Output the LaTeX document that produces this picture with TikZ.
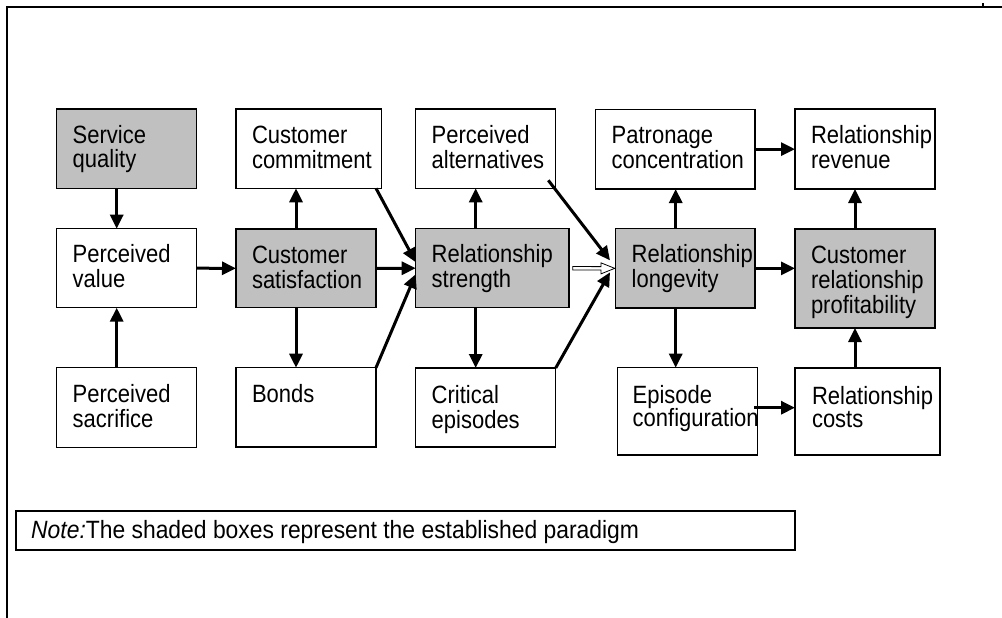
\documentclass[tikz,border=0pt]{standalone}
\usepackage{fontspec}
\setmainfont{Liberation Sans}[FakeStretch=0.88]
\newfontfamily\notefont{Liberation Sans}[FakeStretch=0.915]
\usetikzlibrary{arrows.meta,fit,calc}
\definecolor{paradigm}{RGB}{192,192,192}

\newcommand{\boxlines}[1]{\parbox[t]{160pt}{#1}}

\begin{document}
\begin{tikzpicture}[x=1pt,y=-1pt,
  box/.style={draw, line width=1.2pt, inner sep=0pt, outer sep=0pt},
  shaded/.style={box, fill=paradigm},
  lbl/.style={anchor=base west, inner sep=0pt, outer sep=0pt,
              font=\fontsize{25}{25}\selectfont},
  link/.style={line width=3pt, -{Triangle[length=14pt,width=13pt]}},
  hollow/.style={line width=0.8pt, fill=white},
  frame/.style={line width=1.3pt}]
\useasboundingbox (0,0) rectangle (1002,618);

% open frame (top and left edges)
\draw[frame] (7,618) -- (7,7) -- (1002,7);
\draw[frame] (983,3.5) -- (983,7);

% top row
\node[shaded, fit={(56.7,109) (196.3,188.7)}] (sq) {};
\node[box, fit={(236,109) (381.7,188.3)}] (cc) {};
\node[box, fit={(415.7,109) (555.7,188.3)}] (pa) {};
\node[box, fit={(595.7,109.3) (755,189)}] (pc) {};
\node[box, fit={(795,109) (935,189)}] (rr) {};

% middle row
\node[box, fit={(56.7,228.7) (196.3,307.7)}] (pv) {};
\node[shaded, fit={(236,229) (376,307.7)}] (cs) {};
\node[shaded, fit={(415.7,228.7) (569,307.7)}] (rs) {};
\node[shaded, fit={(615.7,228.7) (755,308)}] (rl) {};
\node[shaded, fit={(795,229) (935,328)}] (crp) {};

% bottom row
\node[box, fit={(56.7,367.7) (196.3,447.3)}] (ps) {};
\node[box, fit={(236,367.7) (376,447)}] (bo) {};
\node[box, fit={(415.7,368) (555.7,447)}] (ce) {};
\node[box, fit={(617.7,367.7) (757.7,455)}] (ec) {};
\node[box, fit={(795,368) (940,455)}] (rc) {};

% box texts
\node[lbl] (sq-t)  at ($(sq.north west)+(16,34)$)  {\boxlines{Service\\[-1pt]quality}};
\node[lbl] (cc-t)  at ($(cc.north west)+(16,34)$)  {\boxlines{Customer\\commitment}};
\node[lbl] (pa-t)  at ($(pa.north west)+(16,34)$)  {\boxlines{Perceived\\alternatives}};
\node[lbl] (pc-t)  at ($(pc.north west)+(16,34)$)  {\boxlines{Patronage\\concentration}};
\node[lbl] (rr-t)  at ($(rr.north west)+(16,34)$)  {\boxlines{Relationship\\revenue}};
\node[lbl] (pv-t)  at ($(pv.north west)+(16,34)$)  {\boxlines{Perceived\\value}};
\node[lbl] (cs-t)  at ($(cs.north west)+(16,34)$)  {\boxlines{Customer\\satisfaction}};
\node[lbl] (rs-t)  at ($(rs.north west)+(16,34)$)  {\boxlines{Relationship\\strength}};
\node[lbl] (rl-t)  at ($(rl.north west)+(16,34)$)  {\boxlines{Relationship\\longevity}};
\node[lbl] (crp-t) at ($(crp.north west)+(16,34)$) {\boxlines{Customer\\relationship\\profitability}};
\node[lbl] (ps-t)  at ($(ps.north west)+(16,35)$)  {\boxlines{Perceived\\sacrifice}};
\node[lbl] (bo-t)  at ($(bo.north west)+(16,35)$)  {\boxlines{Bonds}};
\node[lbl] (ce-t)  at ($(ce.north west)+(16,35)$)  {\boxlines{Critical\\episodes}};
\node[lbl] (ec-t)  at ($(ec.north west)+(15,36)$)  {\boxlines{Episode\\[-2pt]configuration}};
\node[lbl] (rc-t)  at ($(rc.north west)+(17,36)$)  {\boxlines{Relationship\\[-2pt]costs}};

% vertical links, placed 60 units in from the left edge of each column
\coordinate (rlx) at ($(rl.north west)+(60,0)$);
\draw[link] ($(sq.south west)+(60,0)$) -- ($(pv.north west)+(60,0)$);
\draw[link] ($(ps.north west)+(60,0)$) -- ($(pv.south west)+(60,0)$);
\draw[link] ($(cs.north west)+(60,0)$) -- ($(cc.south west)+(60,0)$);
\draw[link] ($(cs.south west)+(60,0)$) -- ($(bo.north west)+(60,0)$);
\draw[link] ($(rs.north west)+(60,0)$) -- ($(pa.south west)+(60,0)$);
\draw[link] ($(rs.south west)+(60,0)$) -- ($(ce.north west)+(60,0)$);
\draw[link] (rlx) -- (rlx |- pc.south);
\draw[link] ($(rl.south west)+(60,0)$) -- (rlx |- ec.north);
\draw[link] ($(crp.north west)+(60,0)$) -- ($(rr.south west)+(60,0)$);
\draw[link] ($(rc.north west)+(60,0)$) -- ($(crp.south west)+(60,0)$);

% horizontal links
\draw[link] (pv.east) -- (cs.west);
\draw[link] (cs.east) -- (rs.west);
\draw[link] (rl.east) -- (rl.east -| crp.west);
\draw[link] (pc.east) -- (pc.east -| rr.west);
\coordinate (ecr) at ($(ec.north east)+(-3.7,40)$);
\draw[link] (ecr) -- (ecr -| rc.west);

% hollow link from strength to longevity
\draw[hollow] ($(rs.east)+(3.7,-1.7)$) -- ($(rl.west)+(-14.7,-1.7)$)
  -- ($(rl.west)+(-14.7,-5.5)$) -- ($(rl.west)+(-1,0)$)
  -- ($(rl.west)+(-14.7,5.5)$) -- ($(rl.west)+(-14.7,1.7)$)
  -- ($(rs.east)+(3.7,1.7)$) -- cycle;

% diagonal links
\draw[link] ($(cc.south east)+(-5.7,0)$) -- ($(rs.west)+(0,-6)$);
\draw[link] (bo.north east) -- ($(rs.west)+(0,6)$);
\draw[link] ($(pa.south east)+(-7.4,-8)$) -- ($(rl.west)+(-5.7,-8)$);
\draw[link] (ce.north east) -- ($(rl.west)+(-5.7,4)$);

% note
\node[box, fit={(16,511) (795,550)}] (note) {};
\node[anchor=base west, inner sep=0pt] (note-t) at (31,538)
  {\notefont\fontsize{25}{25}\selectfont\textit{Note:}The shaded boxes represent the established paradigm};
\end{tikzpicture}
\end{document}
